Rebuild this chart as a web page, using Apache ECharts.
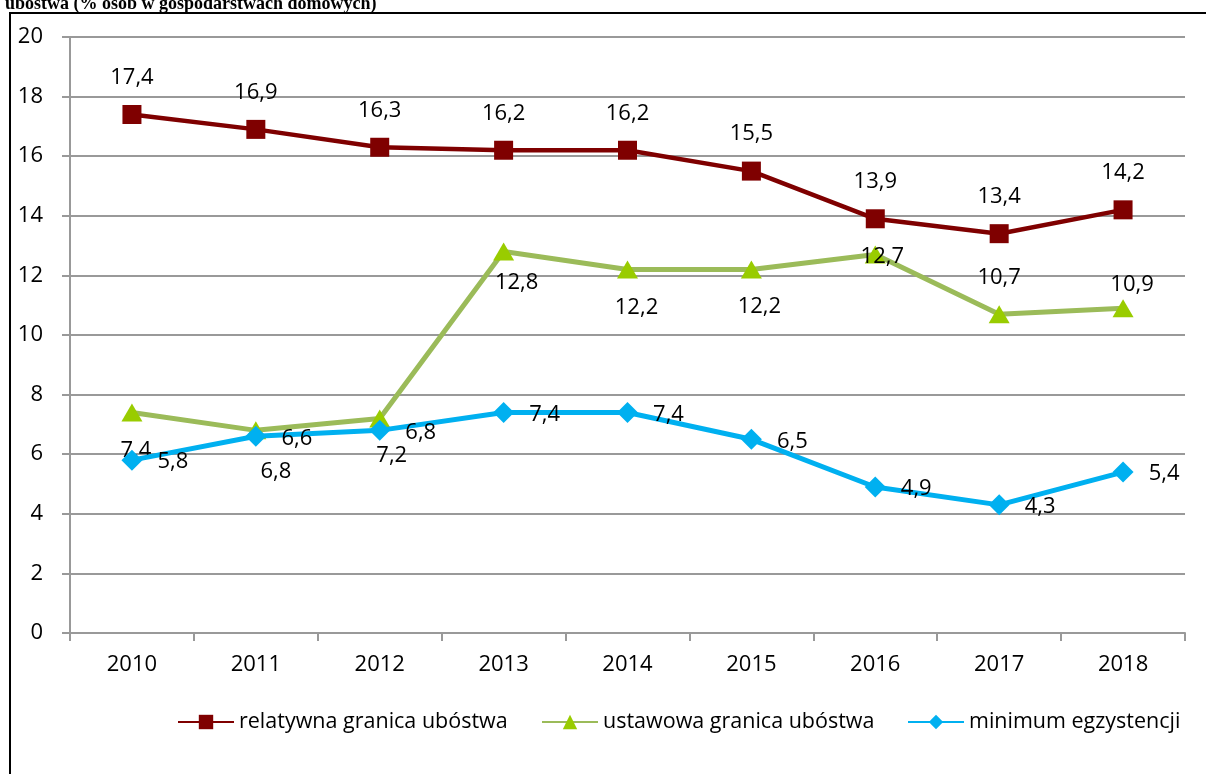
<!DOCTYPE html>
<html>
<head>
<meta charset="utf-8">
<script src="https://cdn.jsdelivr.net/npm/echarts@6/dist/echarts.min.js"></script>
<style>
  html, body { margin: 0; padding: 0; background: #fff; }
  #chart { width: 1206px; height: 774px; }
</style>
</head>
<body>
<div id="chart"></div>
<script>
const years = ['2010', '2011', '2012', '2013', '2014', '2015', '2016', '2017', '2018'];
const relatywna = [17.4, 16.9, 16.3, 16.2, 16.2, 15.5, 13.9, 13.4, 14.2];
const ustawowa = [7.4, 6.8, 7.2, 12.8, 12.2, 12.2, 12.7, 10.7, 10.9];
const minimum = [5.8, 6.6, 6.8, 7.4, 7.4, 6.5, 4.9, 4.3, 5.4];
const yTicks = [0, 2, 4, 6, 8, 10, 12, 14, 16, 18, 20];
const seriesNames = ['relatywna granica ubóstwa', 'ustawowa granica ubóstwa', 'minimum egzystencji'];

// label offsets for the green series (Excel placed them all over the place)
const ustawowaLabelOffsets = [[4, 38], [20, 41], [12, 37], [13, 31], [9, 38], [8, 37], [7, 2], [0, -36], [9, -23]];
// legend entries sit in fixed slots in the original
const legendLefts = [172, 536, 902];

const FONT = '"Open Sans", Lato, sans-serif';
const fmt = (v) => String(v).replace('.', ',');

const chart = echarts.init(document.getElementById('chart'));

const labelBase = {
    show: true,
    position: 'inside',
    fontFamily: FONT,
    fontSize: 22,
    color: '#000',
    formatter: (p) => fmt(p.value)
};

const option = {
    animation: false,
    title: {
        text: 'ubóstwa (% osób w gospodarstwach domowych)',
        left: 0,
        top: -10,
        textStyle: {
            fontFamily: '"Liberation Serif", serif',
            fontWeight: 'bold',
            fontSize: 18,
            color: '#000'
        }
    },
    graphic: [{
        type: 'rect',
        shape: { x: 10, y: 13, width: 1300, height: 900 },
        style: { fill: 'none', stroke: '#000', lineWidth: 2 },
        silent: true,
        z: -1
    }],
    grid: { left: 70, right: 21, top: 37, bottom: 141 },
    legend: seriesNames.map((name, i) => ({
        top: 706,
        left: legendLefts[i],
        itemWidth: 56,
        itemHeight: 18,
        textStyle: { fontFamily: FONT, fontSize: 21.5, color: '#000' },
        data: [name]
    })),
    xAxis: {
        type: 'category',
        data: years,
        boundaryGap: true,
        axisLine: { lineStyle: { color: '#999', width: 2 } },
        axisTick: { show: true, length: 8, lineStyle: { color: '#999', width: 2 } },
        axisLabel: { fontFamily: FONT, fontSize: 22, color: '#000', margin: 21 }
    },
    yAxis: {
        type: 'value',
        min: yTicks[0],
        max: yTicks[yTicks.length - 1],
        interval: yTicks[1] - yTicks[0],
        axisLine: { show: true, lineStyle: { color: '#999', width: 2 } },
        axisTick: { show: true, length: 8, lineStyle: { color: '#999', width: 2 } },
        axisLabel: { fontFamily: FONT, fontSize: 22, color: '#000', margin: 27 },
        splitLine: { lineStyle: { color: '#999', width: 2 } }
    },
    series: [
        {
            name: seriesNames[0],
            type: 'line',
            data: relatywna,
            symbol: 'rect',
            symbolSize: 19,
            lineStyle: { color: '#7F0000', width: 4.5 },
            itemStyle: { color: '#7F0000' },
            label: { ...labelBase, offset: [0, -37] },
            z: 3
        },
        {
            name: seriesNames[1],
            type: 'line',
            data: ustawowa.map((v, i) => ({
                value: v,
                label: { offset: ustawowaLabelOffsets[i] }
            })),
            symbol: 'triangle',
            symbolSize: [21, 18],
            lineStyle: { color: '#9BBB59', width: 5 },
            itemStyle: { color: '#99CC00' },
            label: { ...labelBase },
            z: 2
        },
        {
            name: seriesNames[2],
            type: 'line',
            data: minimum,
            symbol: 'diamond',
            symbolSize: 21,
            lineStyle: { color: '#00B0F0', width: 5 },
            itemStyle: { color: '#00B0F0' },
            label: { ...labelBase, offset: [41, 2] },
            z: 4
        }
    ]
};

chart.setOption(option);
</script>
</body>
</html>
